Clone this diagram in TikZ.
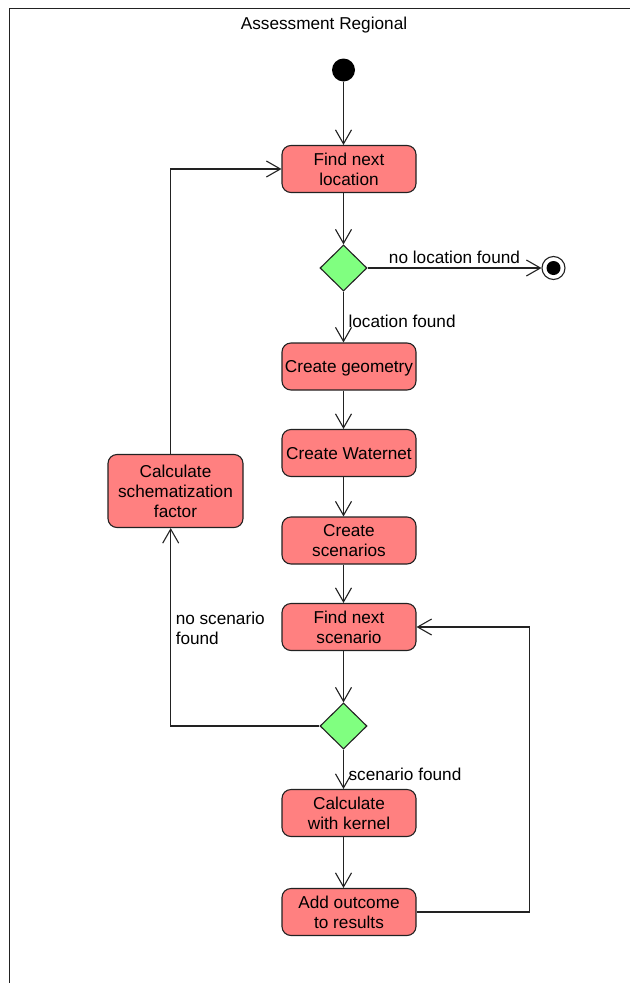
\documentclass[tikz,border=0pt]{standalone}
\usepackage{fontspec}
\setmainfont{Liberation Sans}
\usetikzlibrary{arrows.meta,shapes.geometric,calc}
\definecolor{actred}{HTML}{FF8080}
\definecolor{decgreen}{HTML}{80FF80}
\definecolor{edge}{HTML}{222222}
\begin{document}
\begin{tikzpicture}[x=1pt,y=-1pt,
  every node/.style={font=\fontsize{17.2}{20}\selectfont},
  act/.style={draw=edge, fill=actred, rounded corners=9pt, line width=1.1pt,
    minimum width=134pt, minimum height=47pt, align=center, inner sep=0pt},
  oneline/.style={text depth=0pt},
  dec/.style={draw=edge, fill=decgreen, diamond, line width=1.1pt,
    minimum width=47pt, minimum height=46pt, inner sep=0pt},
  arr/.style={draw=edge, line width=1.1pt, -{Straight Barb[length=14pt,width=16pt]}},
  lbl/.style={inner sep=4.5pt, text=black}]
\useasboundingbox (0,0) rectangle (630,983);
\draw[edge, line width=1.6pt] (9.5,983) -- (9.5,8.5) -- (630,8.5);
\node (title) at (324,25.5) {Assessment Regional};
\node[circle, fill=black, minimum size=23pt, inner sep=0pt] (start) at (343.5,70) {};
\node[act] (b1) at (349,169) {Find next\\location};
\node[dec] (d1) at (343.5,268) {};
\node[circle, draw=edge, fill=white, line width=1.1pt, minimum size=23pt, inner sep=0pt,
  path picture={\fill[black] (path picture bounding box.center) circle (7pt);}] (fin) at (553.5,268) {};
\node[act, oneline] (b2) at (349,366.5) {Create geometry};
\node[act, oneline] (b3) at (349,453) {Create Waternet};
\node[act] (b4) at (349,540.5) {Create\\scenarios};
\node[act] (b5) at (349,627) {Find next\\scenario};
\node[dec] (d2) at (343.5,726) {};
\node[act] (b6) at (349,813) {Calculate\\with kernel};
\node[act] (b7) at (349,912) {Add outcome\\to results};
\node[act, minimum width=135pt, minimum height=73pt] (bc) at (175.5,491) {Calculate\\schematization\\factor};
\coordinate (rc) at (529.3,0);
% connectors
\draw[arr] (start) -- (start |- b1.north);
\draw[arr] (start |- b1.south) -- (d1.north);
\draw[arr] (d1.east) -- (fin.west) node[lbl, midway, anchor=base, yshift=4.5pt] {no location found};
\draw[arr] (d1.south) -- (d1 |- b2.north) node[lbl, pos=0.71, anchor=base west] {location found};
\draw[arr] (d1 |- b2.south) -- (d1 |- b3.north);
\draw[arr] (d1 |- b3.south) -- (d1 |- b4.north);
\draw[arr] (d1 |- b4.south) -- (d1 |- b5.north);
\draw[arr] (d1 |- b5.south) -- (d2.north);
\draw[arr] (d2.south) -- (d2 |- b6.north) node[lbl, pos=0.79, anchor=base west] {scenario found};
\draw[arr] (d2 |- b6.south) -- (d2 |- b7.north);
\draw[arr] (b7.east) -- (b7.east -| rc) |- (b5.east);
\draw[arr] (d2.west) -| ([xshift=-4.8pt]bc.south) node[lbl, pos=0.80, anchor=north west, align=left] {no scenario\\found};
\draw[arr] ([xshift=-4.8pt]bc.north) |- (b1.west);
\end{tikzpicture}
\end{document}
